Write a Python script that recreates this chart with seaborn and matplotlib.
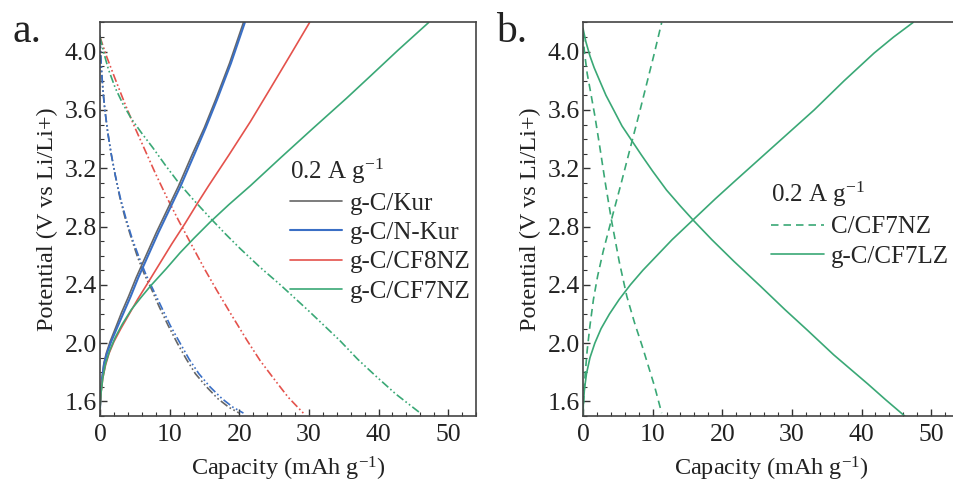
import numpy as np
import pandas as pd
import seaborn as sns
import matplotlib.pyplot as plt
from matplotlib.ticker import MultipleLocator

# panel a: charge (solid) and discharge (dash-dot) curves, capacity in mAh/g, potential in V
nkur_chg_x = [0, 0.1, 0.3, 0.6, 1.0, 1.6, 2.4, 3.4, 4.4, 5.5, 6.9, 8.4, 10.0, 11.6, 13.5, 15.2, 16.8, 18.8, 20.8]
nkur_chg_y = [1.55, 1.65, 1.76, 1.86, 1.93, 2.01, 2.1, 2.21, 2.32, 2.45, 2.6, 2.76, 2.92, 3.08, 3.29, 3.48, 3.67, 3.92, 4.2]
kur_chg_x = [0, 0.1, 0.3, 0.55, 0.9, 1.45, 2.2, 3.1, 4.1, 5.2, 6.6, 8.1, 9.7, 11.3, 13.2, 15.0, 16.6, 18.6, 20.6]
kur_chg_y = nkur_chg_y

nkur_dis_x = [0, 0.1, 0.25, 0.45, 0.7, 1.1, 1.6, 2.2, 2.9, 3.7, 4.6, 5.6, 6.6, 7.6, 8.8,
              10.1, 11.5, 12.8, 14.2, 15.8, 17.5, 19.1, 20.6]
nkur_dis_y = [4.11, 3.98, 3.85, 3.72, 3.6, 3.45, 3.3, 3.15, 3.0, 2.86, 2.72, 2.59, 2.47, 2.37, 2.25,
              2.12, 2.0, 1.89, 1.79, 1.7, 1.62, 1.56, 1.52]
kur_dis_x = [0, 0.1, 0.25, 0.45, 0.7, 1.1, 1.6, 2.2, 2.85, 3.6, 4.5, 5.4, 6.4, 7.4, 8.5,
              9.8, 11.1, 12.4, 13.7, 15.3, 16.9, 18.5, 20.0]
kur_dis_y = nkur_dis_y

cf8_chg_x = [0, 0.15, 0.4, 0.8, 1.3, 2.0, 3.0, 4.2, 5.4, 6.7, 8.5, 10.3, 12.2, 14.0, 15.6,
             18.5, 21.6, 24.5, 27.5, 30.1]
cf8_chg_y = [1.55, 1.66, 1.76, 1.85, 1.93, 2.01, 2.1, 2.2, 2.3, 2.4, 2.54, 2.68, 2.82, 2.96, 3.08,
             3.29, 3.52, 3.75, 3.99, 4.2]
cf8_dis_x = [0, 1.0, 2.2, 3.6, 5.0, 6.5, 8.0, 9.6, 11.3, 13.2, 15.0, 16.8, 18.8, 21.1, 23.0, 24.9, 27.0, 29.2]
cf8_dis_y = [4.1, 3.96, 3.81, 3.64, 3.48, 3.32, 3.16, 3.0, 2.84, 2.67, 2.51, 2.36, 2.2, 2.02, 1.88, 1.76, 1.63, 1.52]

cf7_chg_x = [0, 0.15, 0.4, 0.8, 1.4, 2.2, 3.2, 4.5, 6.0, 7.4, 9.5, 11.5, 13.5, 15.8, 18.5,
             21.6, 25.9, 30.5, 35.4, 39.0, 42.8, 47.2]
cf7_chg_y = [1.55, 1.66, 1.76, 1.86, 1.95, 2.04, 2.13, 2.23, 2.32, 2.4, 2.51, 2.62, 2.72, 2.83, 2.95,
             3.08, 3.27, 3.47, 3.68, 3.84, 4.01, 4.2]
cf7_dis_x = [0, 0.5, 1.2, 2.2, 3.3, 4.5, 6.0, 7.6, 9.4, 11.3, 13.3, 15.8, 18.0, 20.1, 23.0, 25.9,
             30.0, 34.4, 37.0, 39.7, 42.5, 46.0]
cf7_dis_y = [4.1, 4.0, 3.88, 3.75, 3.64, 3.54, 3.44, 3.34, 3.22, 3.1, 2.99, 2.86, 2.75, 2.65, 2.52, 2.4,
             2.22, 2.02, 1.89, 1.77, 1.65, 1.52]

# panel b
c_chg_x = [0, 0.1, 0.3, 0.6, 1.0, 1.5, 2.1, 2.9, 4.1, 5.5, 6.9, 8.1, 9.2, 10.2, 11.3]
c_chg_y = [1.5, 1.62, 1.78, 1.95, 2.12, 2.3, 2.46, 2.63, 2.85, 3.1, 3.36, 3.58, 3.79, 3.98, 4.2]
c_dis_x = [0, 0.2, 0.6, 1.1, 1.7, 2.4, 3.2, 4.1, 5.2, 6.3, 7.4, 8.5, 9.4, 10.3, 11.3]
c_dis_y = [4.12, 4.0, 3.85, 3.72, 3.56, 3.35, 3.1, 2.84, 2.56, 2.32, 2.14, 1.98, 1.84, 1.7, 1.52]

lz_chg_x = [0, 0.05, 0.2, 0.5, 1.0, 1.7, 2.6, 3.8, 5.2, 6.8, 8.6, 10.6, 12.8, 15.9, 19.0, 22.0,
            25.5, 29.0, 33.2, 37.5, 41.8, 44.6, 47.4]
lz_chg_y = [1.5, 1.58, 1.68, 1.79, 1.9, 2.0, 2.1, 2.2, 2.3, 2.4, 2.5, 2.6, 2.71, 2.85, 2.99, 3.12,
            3.27, 3.42, 3.6, 3.8, 3.99, 4.1, 4.2]
lz_dis_x = [0, 0.4, 1.0, 1.6, 2.4, 3.3, 4.4, 5.6, 7.0, 8.4, 10.0, 12.0, 14.0, 15.9, 18.5, 21.7,
            25.5, 29.0, 32.2, 36.0, 40.9, 43.5, 46.2]
lz_dis_y = [4.16, 4.07, 3.97, 3.89, 3.8, 3.7, 3.6, 3.49, 3.39, 3.29, 3.18, 3.05, 2.94, 2.84, 2.71, 2.56,
            2.39, 2.23, 2.09, 1.92, 1.72, 1.61, 1.5]

labels_a = ['g-C/Kur', 'g-C/N-Kur', 'g-C/CF8NZ', 'g-C/CF7NZ']
labels_b = ['C/CF7NZ', 'g-C/CF7LZ']
legend_title = '0.2 A g$^{-1}$'
x_ticks = [0, 10, 20, 30, 40, 50]
y_ticks = [1.6, 2.0, 2.4, 2.8, 3.2, 3.6, 4.0]

gray = '#666666'
blue = '#3a6fc5'
red = '#e4524c'
green = '#3aa876'
dashdotdot = (0, (5, 1.6, 1, 1.6, 1, 1.6))
dashed = (0, (4.5, 3))

sns.set_style('ticks')
plt.rcParams['font.family'] = ['Liberation Serif', 'DejaVu Serif']
plt.rcParams['mathtext.fontset'] = 'custom'
plt.rcParams['mathtext.rm'] = 'Liberation Serif'
plt.rcParams['mathtext.default'] = 'rm'
plt.rcParams['font.size'] = 18

fig = plt.figure(figsize=(9.54, 4.86), dpi=100)
ax_a = fig.add_axes([100 / 954, 1 - 416 / 486, 376 / 954, 393.5 / 486])
ax_b = fig.add_axes([583 / 954, 1 - 416 / 486, 376 / 954, 393.5 / 486])


def curve(ax, xs, ys, color, ls='-', label=None, lw=1.2):
    df = pd.DataFrame({'x': xs, 'y': ys})
    sns.lineplot(data=df, x='x', y='y', ax=ax, color=color, linestyle=ls,
                 lw=lw, sort=False, estimator=None, label=label, legend=False)


# panel a
curve(ax_a, kur_dis_x, kur_dis_y, gray, dashdotdot)
curve(ax_a, nkur_dis_x, nkur_dis_y, blue, dashdotdot)
curve(ax_a, cf8_dis_x, cf8_dis_y, red, dashdotdot)
curve(ax_a, cf7_dis_x, cf7_dis_y, green, dashdotdot)
curve(ax_a, kur_chg_x, kur_chg_y, gray, '-', labels_a[0])
curve(ax_a, nkur_chg_x, nkur_chg_y, blue, '-', labels_a[1], lw=1.5)
curve(ax_a, cf8_chg_x, cf8_chg_y, red, '-', labels_a[2])
curve(ax_a, cf7_chg_x, cf7_chg_y, green, '-', labels_a[3])

# panel b
curve(ax_b, c_chg_x, c_chg_y, green, dashed, labels_b[0])
curve(ax_b, c_dis_x, c_dis_y, green, dashed)
curve(ax_b, lz_chg_x, lz_chg_y, green, '-', labels_b[1])
curve(ax_b, lz_dis_x, lz_dis_y, green, '-')

for ax in (ax_a, ax_b):
    ax.set_xlim(0, 54)
    ax.set_ylim(1.5, 4.2)
    ax.set_xticks(x_ticks)
    ax.set_yticks(y_ticks)
    ax.set_yticklabels([f'{v:.1f}' for v in y_ticks])
    ax.xaxis.set_minor_locator(MultipleLocator(2))
    ax.yaxis.set_minor_locator(MultipleLocator(0.1))
    ax.tick_params(which='major', direction='in', length=5, width=1, labelsize=18.5,
                   colors='#333333', labelcolor='#222222')
    ax.tick_params(axis='y', which='major', pad=2)
    ax.tick_params(axis='x', which='major', pad=6)
    ax.tick_params(which='minor', direction='in', length=3, width=0.8, colors='#333333')
    for s in ax.spines.values():
        s.set_color('#444444')
        s.set_linewidth(1.2)
    ax.set_xlabel('Capacity (mAh g$^{-1}$)', fontsize=17.5, labelpad=6, color='#222222')
    ax.set_ylabel('Potential (V vs Li/Li+)', fontsize=17.5, labelpad=5, color='#222222')

leg_kw = dict(frameon=False, fontsize=18, title_fontsize=18, alignment='left',
              handlelength=2.1, handletextpad=0.3, labelspacing=0.27, borderpad=0,
              borderaxespad=0, loc='upper left')
ax_a.legend(title=legend_title, bbox_to_anchor=(0.505, 0.66), **leg_kw)
ax_b.legend(title=legend_title, bbox_to_anchor=(0.5, 0.6), **leg_kw)

fig.text(12 / 954, 1 - 42 / 486, 'a.', fontsize=30, color='#222222')
fig.text(496 / 954, 1 - 42 / 486, 'b.', fontsize=30, color='#222222')

fig.savefig('out.png', dpi=100)
